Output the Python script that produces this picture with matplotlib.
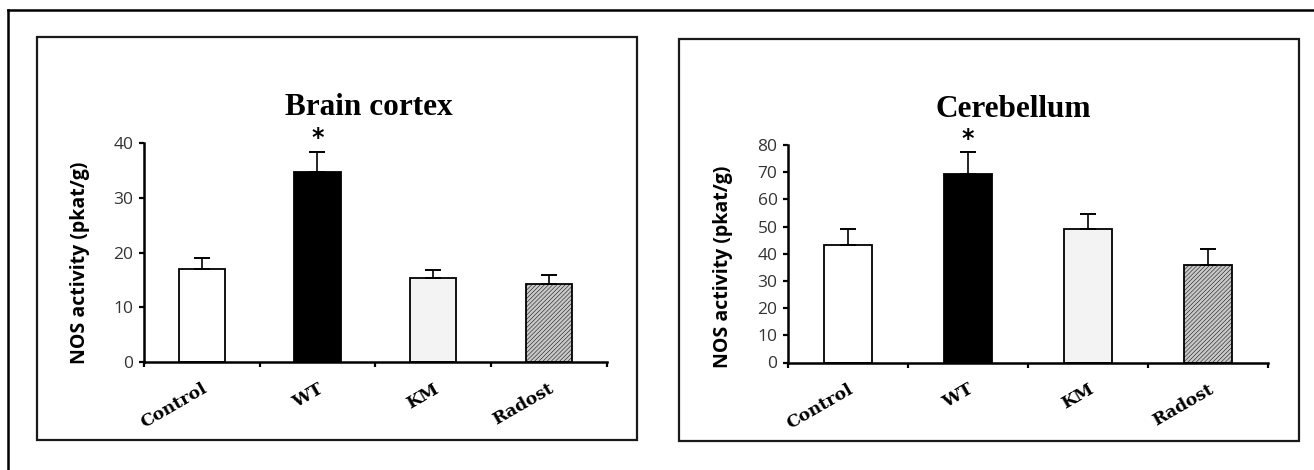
import numpy as np
import matplotlib
matplotlib.use("Agg")
import matplotlib.pyplot as plt
from matplotlib.patches import Rectangle
from matplotlib.lines import Line2D

# ------------------------------------------------------------
# data
# ------------------------------------------------------------
groups = ["Control", "WT", "KM", "Radost"]

cortex_mean = [17.1, 34.8, 15.3, 14.2]
cortex_err = [1.9, 3.7, 1.5, 1.7]

cereb_mean = [43.4, 69.2, 49.2, 36.0]
cereb_err = [5.8, 8.1, 5.5, 5.6]

cortex_ticks = [0, 10, 20, 30, 40]
cereb_ticks = [0, 10, 20, 30, 40, 50, 60, 70, 80]

bar_colors = ["white", "black", "#f3f3f3", "#c8c8c8"]
bar_hatches = [None, None, None, "////////"]

W, H = 1314, 470
plt.rcParams["hatch.linewidth"] = 0.35

fig = plt.figure(figsize=(W / 100, H / 100), dpi=100)
fig.patch.set_facecolor("white")


def px(x0, y0, x1, y1):
    # pixel box -> figure fraction [left, bottom, width, height]
    return [x0 / W, 1 - y1 / H, (x1 - x0) / W, (y1 - y0) / H]


def draw_panel(rect, title, means, errs, yticks, ylab_xy, title_x):
    ax = fig.add_axes(rect)
    x = np.arange(len(groups))
    bars = ax.bar(x, means, width=0.4, color=bar_colors, edgecolor="black",
                  linewidth=1.3, zorder=2)
    for b, h in zip(bars, bar_hatches):
        if h:
            b.set_hatch(h)
    ax.errorbar(x, means, yerr=[np.zeros(len(errs)), errs], fmt="none",
                ecolor="black", elinewidth=1.2, capsize=6, capthick=1.4, zorder=3)

    # significance mark over WT
    ax.annotate("*", (1, means[1] + errs[1]), xytext=(0, 1), textcoords="offset points",
                ha="center", va="bottom", fontsize=17, fontweight="bold",
                family="DejaVu Sans")

    ax.set_xlim(-0.5, len(groups) - 0.5)
    ax.set_ylim(0, yticks[-1])
    ax.set_yticks(yticks)
    ax.set_yticklabels([str(t) for t in yticks], fontsize=12.5, color="#333333",
                       family="Open Sans")
    ax.tick_params(axis="y", direction="out", length=3.5, width=1.6, pad=4)

    ax.set_xticks(x)
    ax.set_xticks(np.arange(-0.5, len(groups)), minor=True)
    ax.set_xticklabels(groups, rotation=30, ha="right", rotation_mode="anchor",
                       fontsize=12.5, fontweight="bold", family="DejaVu Serif")
    ax.tick_params(axis="x", which="major", length=0, pad=13)
    ax.tick_params(axis="x", which="minor", direction="out", length=3.5, width=1.6)

    for s in ["top", "right"]:
        ax.spines[s].set_visible(False)
    for s in ["left", "bottom"]:
        ax.spines[s].set_linewidth(1.8)
    ax.spines["left"].set_zorder(4)

    ax.set_ylabel("NOS activity (pkat/g)", fontsize=14, fontweight="bold",
                  family="Open Sans", va="center")
    ax.yaxis.set_label_coords(*ylab_xy)

    ax.text(title_x, 1.165, title, transform=ax.transAxes, ha="center", va="center",
            fontsize=22.5, fontweight="bold", family="Liberation Serif")
    return ax


draw_panel(px(144, 143.3, 606.5, 362), "Brain cortex", cortex_mean, cortex_err,
           cortex_ticks, (-0.138, 0.454), 0.487)
draw_panel(px(788, 145, 1268, 362.5), "Cerebellum", cereb_mean, cereb_err,
           cereb_ticks, (-0.135, 0.439), 0.47)

# panel boxes
for x0, y0, x1, y1 in [(37, 37, 637, 440), (679, 39, 1299, 441)]:
    fig.add_artist(Rectangle((x0 / W, 1 - y1 / H), (x1 - x0) / W, (y1 - y0) / H,
                             transform=fig.transFigure, fill=False,
                             edgecolor="#1a1a1a", linewidth=1.6))

# outer frame (top and left edges visible)
fig.add_artist(Line2D([8 / W, 1], [1 - 9.5 / H, 1 - 9.5 / H], transform=fig.transFigure,
                      color="black", linewidth=1.8))
fig.add_artist(Line2D([8 / W, 8 / W], [0, 1 - 9.5 / H], transform=fig.transFigure,
                      color="black", linewidth=1.8))

fig.savefig("out.png", dpi=100, facecolor="white")
